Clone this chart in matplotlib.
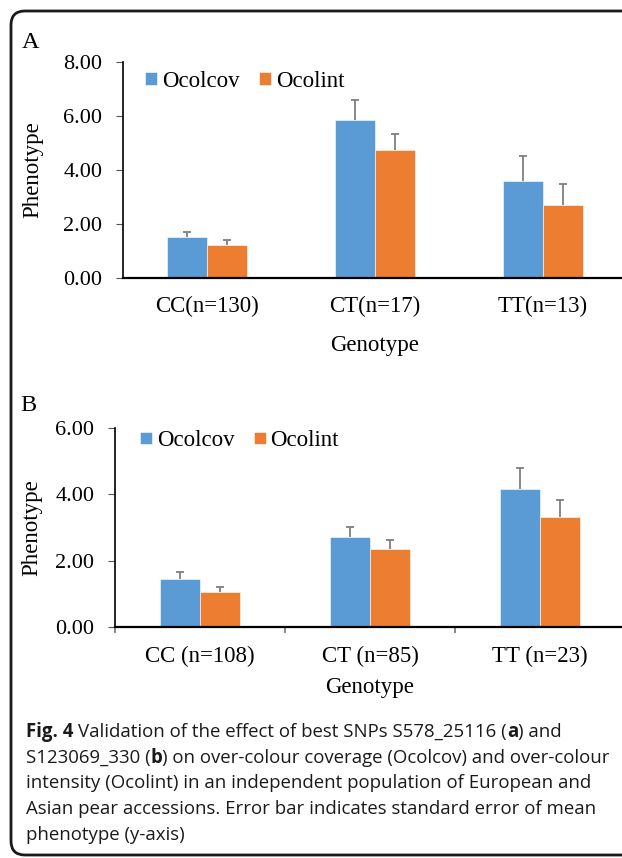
import matplotlib
matplotlib.use("Agg")
import matplotlib.pyplot as plt
import numpy as np
from matplotlib.patches import FancyBboxPatch
from matplotlib.ticker import FormatStrFormatter

plt.rcParams['font.family'] = 'Liberation Serif'

W, H = 622, 858

series = ["Ocolcov", "Ocolint"]
colors = ["#5B9BD5", "#ED7D31"]

# panel A : S578_25116
genotypes_a = ["CC(n=130)", "CT(n=17)", "TT(n=13)"]
ocolcov_a = [1.51, 5.85, 3.59]
ocolcov_a_se = [0.21, 0.74, 0.93]
ocolint_a = [1.22, 4.75, 2.71]
ocolint_a_se = [0.19, 0.60, 0.77]

# panel B : S123069_330
genotypes_b = ["CC (n=108)", "CT (n=85)", "TT (n=23)"]
ocolcov_b = [1.45, 2.71, 4.16]
ocolcov_b_se = [0.20, 0.31, 0.63]
ocolint_b = [1.05, 2.36, 3.32]
ocolint_b_se = [0.15, 0.27, 0.51]

# caption lines as (text, bold) pieces
caption = [
    [("Fig. 4", True), (" Validation of the effect of best SNPs S578_25116 (", False),
     ("a", True), (") and", False)],
    [("S123069_330 (", False), ("b", True),
     (") on over-colour coverage (Ocolcov) and over-colour", False)],
    [("intensity (Ocolint) in an independent population of European and", False)],
    [("Asian pear accessions. Error bar indicates standard error of mean", False)],
    [("phenotype (y-axis)", False)],
]


def px_axes(fig, left, top, right, bottom):
    return fig.add_axes([left / W, 1 - bottom / H, (right - left) / W, (bottom - top) / H])


def draw_panel(ax, labels, means, ses, ymax, xticks_on, leg_xy):
    x = np.arange(len(labels))
    w = 0.237
    for k, (m, s) in enumerate(zip(means, ses)):
        xs = x + (k - 0.5) * w
        ax.bar(xs, m, width=w, color=colors[k], label=series[k],
               edgecolor="white", linewidth=0.4, zorder=2)
        eb = ax.errorbar(xs, m, yerr=[np.zeros(len(m)), s], fmt='none',
                         ecolor='#7f7f7f', elinewidth=1.3, capsize=3,
                         capthick=1.3, zorder=3)
        eb[1][0].set_visible(False)

    ax.set_xlim(-0.5, len(labels) - 0.5)
    ax.set_ylim(0, ymax)
    ax.set_yticks(np.arange(0, ymax + 0.1, 2))
    ax.yaxis.set_major_formatter(FormatStrFormatter('%.2f'))
    for sp in ['top', 'right']:
        ax.spines[sp].set_visible(False)
    ax.spines['left'].set_linewidth(1.2)
    ax.spines['bottom'].set_linewidth(1.6)
    ax.tick_params(axis='y', length=4.8, width=0.8, color='#555555',
                   pad=10, labelsize=16)

    if xticks_on:
        ax.set_xticks(np.arange(len(labels) + 1) - 0.5, minor=True)
        ax.tick_params(axis='x', which='minor', length=4.5, width=1.1,
                       color='#666666')
        ax.tick_params(axis='x', which='major', length=0, pad=14, labelsize=16.5)
    else:
        ax.tick_params(axis='x', length=0, pad=13, labelsize=16.5)
    ax.set_xticks(x)
    ax.set_xticklabels(labels)

    ax.set_ylabel("Phenotype", fontsize=16.5)
    ax.set_xlabel("Genotype", fontsize=16.5)

    ax.legend(ncol=2, frameon=False, loc='center left', bbox_to_anchor=leg_xy,
              borderpad=0, borderaxespad=0, handlelength=0.53,
              handleheight=0.45, handletextpad=0.2, columnspacing=0.85,
              fontsize=16.5)


fig = plt.figure(figsize=(W / 100, H / 100), dpi=100)

ax_a = px_axes(fig, 123, 62, 627, 278)
draw_panel(ax_a, genotypes_a, [ocolcov_a, ocolint_a], [ocolcov_a_se, ocolint_a_se],
           8, False, (0.044, 0.912))
ax_a.yaxis.set_label_coords(-0.159, 0.5)
ax_a.xaxis.set_label_coords(0.5, -0.262)

ax_b = px_axes(fig, 115, 428.3, 625, 626.7)
draw_panel(ax_b, genotypes_b, [ocolcov_b, ocolint_b], [ocolcov_b_se, ocolint_b_se],
           6, True, (0.049, 0.936))
ax_b.yaxis.set_label_coords(-0.143, 0.5)
ax_b.xaxis.set_label_coords(0.5, -0.256)

fig.text(22 / W, 1 - 48 / H, "A", fontsize=17.5, va='baseline')
fig.text(20 / W, 1 - 411 / H, "B", fontsize=17.5, va='baseline')

# caption, drawn piece by piece so bold parts line up on one baseline
renderer = fig.canvas.get_renderer()
cap_kw = dict(family='Open Sans', fontsize=13.4, va='baseline', color='#1a1a1a')


def text_width(s, bold):
    t = fig.text(0, 0, s, weight='bold' if bold else 'normal', **cap_kw)
    wpx = t.get_window_extent(renderer).width
    t.remove()
    return wpx


space_w = text_width("a a", False) - text_width("aa", False)

for i, pieces in enumerate(caption):
    xpx = 26
    ypx = 737 + 25.75 * i
    for s, bold in pieces:
        lead = len(s) - len(s.lstrip(" "))
        xpx += lead * space_w
        core = s.strip(" ")
        fig.text(xpx / W, 1 - ypx / H, core, weight='bold' if bold else 'normal', **cap_kw)
        xpx += text_width(core, bold)
        xpx += (len(s) - len(s.rstrip(" "))) * space_w

frame = FancyBboxPatch((0.11, 0.03), 9.0, 8.44,
                       boxstyle='round,pad=0,rounding_size=0.14',
                       transform=fig.dpi_scale_trans, fill=False,
                       linewidth=2.0, edgecolor='#1a1a1a')
fig.add_artist(frame)

fig.savefig("out.png", dpi=100)
